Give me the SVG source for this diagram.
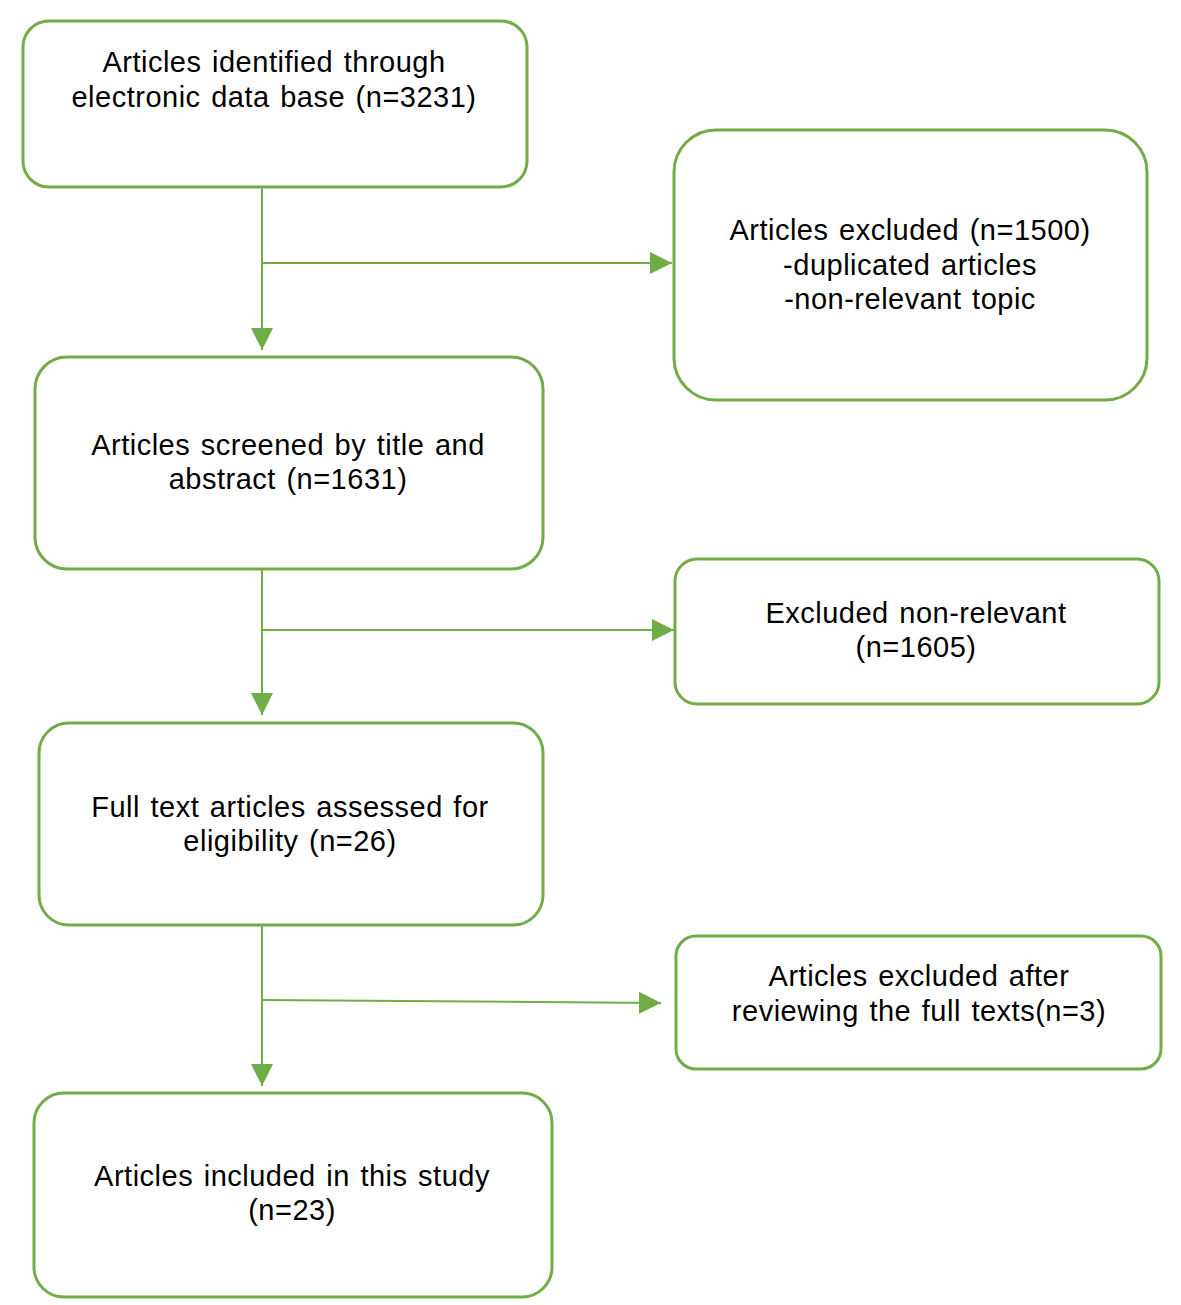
<svg xmlns="http://www.w3.org/2000/svg" width="1181" height="1305" viewBox="0 0 1181 1305">
<style>
.box{fill:#fff;stroke:#70ad47;stroke-width:3}
.t{font-family:"Liberation Sans",Arial,sans-serif;font-size:29px;fill:#000;text-anchor:middle;letter-spacing:0.5px;word-spacing:2px}
.c{fill:none;stroke:#70ad47;stroke-width:2}
</style>
<defs>
<marker id="ah" markerUnits="userSpaceOnUse" markerWidth="24" markerHeight="24" viewBox="0 0 24 24" refX="22" refY="12" orient="auto">
<path d="M0,1 L22,12 L0,23 Z" fill="#70ad47"/>
</marker>
</defs>
<rect width="1181" height="1305" fill="#fff"/>
<g id="connectors">
<path class="c" d="M262,182 L262,350" marker-end="url(#ah)"/>
<path class="c" d="M262,263 L672,263" marker-end="url(#ah)"/>
<path class="c" d="M262,563 L262,715" marker-end="url(#ah)"/>
<path class="c" d="M262,630 L674,630" marker-end="url(#ah)"/>
<path class="c" d="M262,918 L262,1086" marker-end="url(#ah)"/>
<path class="c" d="M262,1000 L661,1003" marker-end="url(#ah)"/>
</g>
<g id="n1">
<rect class="box" x="23" y="21" width="504" height="166" rx="26"/>
<text class="t" x="274" y="72">Articles identified through</text>
<text class="t" x="274" y="107">electronic data base (n=3231)</text>
</g>
<g id="n2">
<rect class="box" x="674" y="130" width="473" height="270" rx="42"/>
<text class="t" x="910" y="240">Articles excluded (n=1500)</text>
<text class="t" x="910" y="275">-duplicated articles</text>
<text class="t" x="910" y="309">-non-relevant topic</text>
</g>
<g id="n3">
<rect class="box" x="35" y="357" width="508" height="212" rx="32"/>
<text class="t" x="288" y="455">Articles screened by title and</text>
<text class="t" x="288" y="489">abstract (n=1631)</text>
</g>
<g id="n4">
<rect class="box" x="675" y="559" width="484" height="145" rx="22"/>
<text class="t" x="916" y="623">Excluded non-relevant</text>
<text class="t" x="916" y="657">(n=1605)</text>
</g>
<g id="n5">
<rect class="box" x="39" y="723" width="504" height="202" rx="30"/>
<text class="t" x="290" y="817">Full text articles assessed for</text>
<text class="t" x="290" y="851">eligibility (n=26)</text>
</g>
<g id="n6">
<rect class="box" x="676" y="936" width="485" height="133" rx="20"/>
<text class="t" x="919" y="986">Articles excluded after</text>
<text class="t" x="919" y="1021">reviewing the full texts(n=3)</text>
</g>
<g id="n7">
<rect class="box" x="34" y="1093" width="518" height="204" rx="30"/>
<text class="t" x="292" y="1186">Articles included in this study</text>
<text class="t" x="292" y="1220">(n=23)</text>
</g>
</svg>
